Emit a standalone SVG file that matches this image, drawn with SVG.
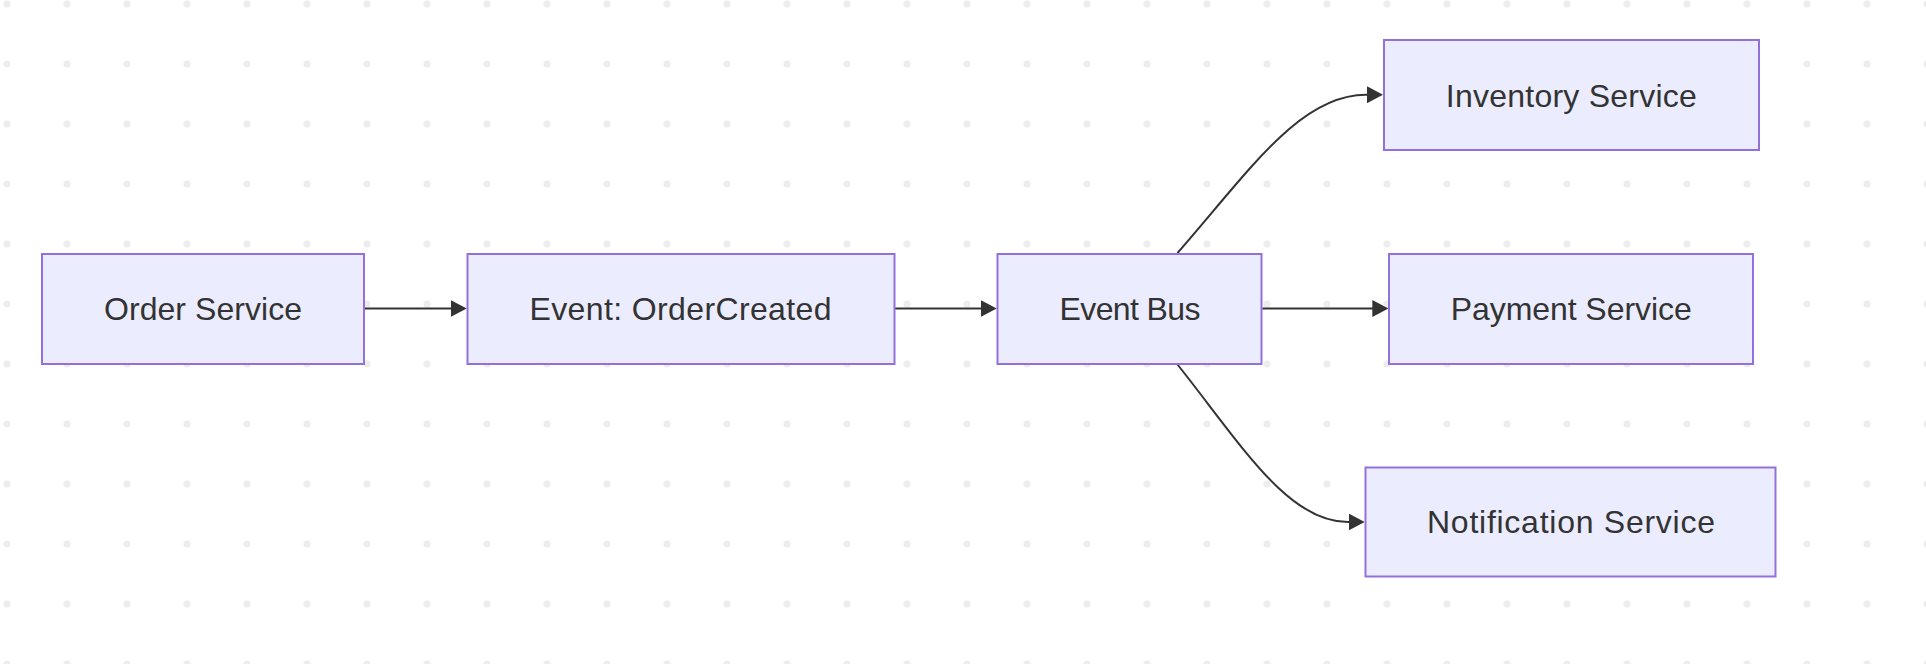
<svg xmlns="http://www.w3.org/2000/svg" width="1926" height="664" viewBox="0 0 1926 664">
  <style>
    .node rect { fill: #ECECFF; stroke: #9370DB; stroke-width: 2; }
    .node text { font-family: "Liberation Sans", Arial, sans-serif; font-size: 32px; fill: #333333; text-anchor: middle; }
    .edge { fill: none; stroke: #333333; stroke-width: 2; marker-end: url(#arrow); }
  </style>
  <defs>
    <pattern id="dots" x="0" y="0" width="60" height="60" patternUnits="userSpaceOnUse">
      <circle cx="7" cy="4" r="3.6" fill="#ededed"/>
    </pattern>
    <marker id="arrow" viewBox="0 0 16 17" refX="8" refY="8.5" markerWidth="16" markerHeight="17" markerUnits="userSpaceOnUse" orient="auto">
      <path d="M0,0 L16,8.5 L0,17 z" fill="#333333"/>
    </marker>
  </defs>
  <rect x="0" y="0" width="1926" height="664" fill="#ffffff"/>
  <rect x="0" y="0" width="1926" height="664" fill="url(#dots)"/>

  <g id="connectors">
    <path class="edge" d="M365,308.5 L458.7,308.5"/>
    <path class="edge" d="M895,308.5 L988.7,308.5"/>
    <path class="edge" d="M1262.3,308.5 L1380.3,308.5"/>
    <path class="edge" d="M1177.5,253 C1250,170 1300,94.7 1366,94.7 L1375,94.7"/>
    <path class="edge" d="M1177.5,364.5 C1243,447 1288,522 1348,522 L1356.7,522"/>
  </g>

  <g id="order-service" class="node">
    <rect x="42" y="254" width="322" height="110"/>
    <text x="203" y="320" textLength="198" lengthAdjust="spacing">Order Service</text>
  </g>
  <g id="event-ordercreated" class="node">
    <rect x="467.5" y="254" width="427" height="110"/>
    <text x="680.5" y="320" textLength="302" lengthAdjust="spacing">Event: OrderCreated</text>
  </g>
  <g id="event-bus" class="node">
    <rect x="997.5" y="254" width="264" height="110"/>
    <text x="1130" y="320" textLength="141" lengthAdjust="spacing">Event Bus</text>
  </g>
  <g id="inventory-service" class="node">
    <rect x="1384" y="40" width="375" height="110"/>
    <text x="1571.3" y="106.5" textLength="251" lengthAdjust="spacing">Inventory Service</text>
  </g>
  <g id="payment-service" class="node">
    <rect x="1389" y="254" width="364" height="110"/>
    <text x="1571.2" y="320" textLength="241" lengthAdjust="spacing">Payment Service</text>
  </g>
  <g id="notification-service" class="node">
    <rect x="1365.5" y="467.5" width="410" height="109"/>
    <text x="1571" y="533.3" textLength="288" lengthAdjust="spacing">Notification Service</text>
  </g>
</svg>
